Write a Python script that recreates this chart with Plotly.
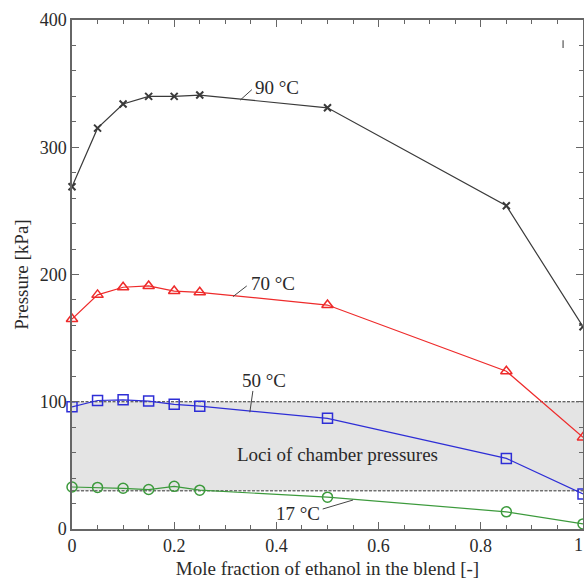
import plotly.graph_objects as go

# ---- data ----
mole_fraction = [0, 0.05, 0.1, 0.15, 0.2, 0.25, 0.5, 0.85, 1.0]
p_90 = [269, 315, 334, 340, 340, 341, 331, 254, 159]
p_70 = [165, 184, 190, 191, 187, 186, 176, 124, 72]
p_50 = [96, 101, 101.5, 100.5, 98, 96.5, 87, 55.5, 27.5]
p_17 = [33, 32.7, 32, 31, 33.5, 30.5, 25, 13.5, 4]
band_low, band_high = 30, 100
series_labels = ["90 °C", "70 °C", "50 °C", "17 °C"]
band_label = "Loci of chamber pressures"
x_title = "Mole fraction of ethanol in the blend [-]"
y_title = "Pressure [kPa]"
x_tickvals = [0, 0.2, 0.4, 0.6, 0.8]
x_ticktext = ["0", "0.2", "0.4", "0.6", "0.8"]

FONT = "Liberation Serif, Times New Roman, serif"
TXT = "#2a2a2a"
AX = "#666666"

fig = go.Figure()

# band
fig.add_shape(type="rect", xref="x", yref="y", x0=0, x1=1, y0=band_low, y1=band_high,
              fillcolor="#e4e4e4", line_width=0, layer="below")
for yv in (band_low, band_high):
    fig.add_shape(type="line", xref="x", yref="y", x0=0, x1=1, y0=yv, y1=yv,
                  line=dict(color="#333333", width=1, dash="3px,1.5px"), layer="below")

styles = [
    (p_90, "#3a3a3a", "x-thin-open", 7, 2),
    (p_70, "#ee2b2b", "triangle-up-open", 10, 1.5),
    (p_50, "#2e2ed6", "square-open", 10, 1.5),
    (p_17, "#3c9a3c", "circle-open", 10, 1.5),
]
for (ys, col, sym, size, mlw), name in zip(styles, series_labels):
    fig.add_trace(go.Scatter(
        x=mole_fraction, y=ys, mode="lines+markers", name=name,
        line=dict(color=col, width=1.2),
        marker=dict(symbol=sym, size=size, color=col, line=dict(color=col, width=mlw)),
        cliponaxis=False, showlegend=False))

# leader lines (label pointers)
leaders = [
    ((0.329, 337), (0.352, 345.3)),
    ((0.315, 182.6), (0.342, 191)),
    ((0.348, 91.7), (0.354, 108.5)),
    ((0.4906, 15.7), (0.55, 22.8)),
]
for (a, b) in leaders:
    fig.add_shape(type="line", xref="x", yref="y", x0=a[0], y0=a[1], x1=b[0], y1=b[1],
                  line=dict(color="#444444", width=1))

# small stray mark in top-right
fig.add_shape(type="line", xref="x", yref="y", x0=0.961, x1=0.961, y0=378, y1=384,
              line=dict(color="#555555", width=1.2))

lab_pos = [
    (0.354, 347.3, "left"),
    (0.346, 193.3, "left"),
    (0.376, 117, "center"),
    (0.489, 11.8, "right"),
]
for (x, y, xa), t in zip(lab_pos, series_labels):
    fig.add_annotation(x=x, y=y, text=t, showarrow=False, xanchor=xa, yanchor="middle",
                       font=dict(family=FONT, size=19, color=TXT))
fig.add_annotation(x=0.52, y=58.2, text=band_label, showarrow=False,
                   xanchor="center", yanchor="middle",
                   font=dict(family=FONT, size=19, color=TXT))
# last x tick label (at the page edge in the original)
fig.add_annotation(x=1, xref="x", y=-0.031, yref="paper", text="1", showarrow=False,
                   xanchor="right", yanchor="middle", borderpad=0, xshift=1,
                   font=dict(family=FONT, size=18, color=TXT))

axis_common = dict(
    showgrid=False, zeroline=False, showline=True, linecolor=AX, linewidth=1.5,
    mirror="allticks", ticks="inside", ticklen=7, tickwidth=1.2, tickcolor=AX,
    tickfont=dict(family=FONT, size=18, color=TXT),
)
fig.update_xaxes(range=[0, 1],
                 minor=dict(dtick=0.05, tick0=0, ticks="inside", ticklen=4, tickcolor=AX, tickwidth=1.2),
                 title=dict(text=x_title, font=dict(family=FONT, size=19, color=TXT), standoff=11),
                 tickvals=x_tickvals + [1.0], ticktext=x_ticktext + [""],
                 **axis_common)
fig.update_yaxes(range=[0, 400], dtick=100, tick0=0,
                 minor=dict(dtick=20, ticks="inside", ticklen=4, tickcolor=AX, tickwidth=1.2),
                 title=dict(text=y_title, font=dict(family=FONT, size=19, color=TXT), standoff=6),
                 **axis_common)

fig.update_layout(
    width=584, height=579,
    margin=dict(l=72, r=1, t=20, b=50, autoexpand=False),
    plot_bgcolor="white", paper_bgcolor="white",
    font=dict(family=FONT, color=TXT),
)

fig.write_html("out.html")
